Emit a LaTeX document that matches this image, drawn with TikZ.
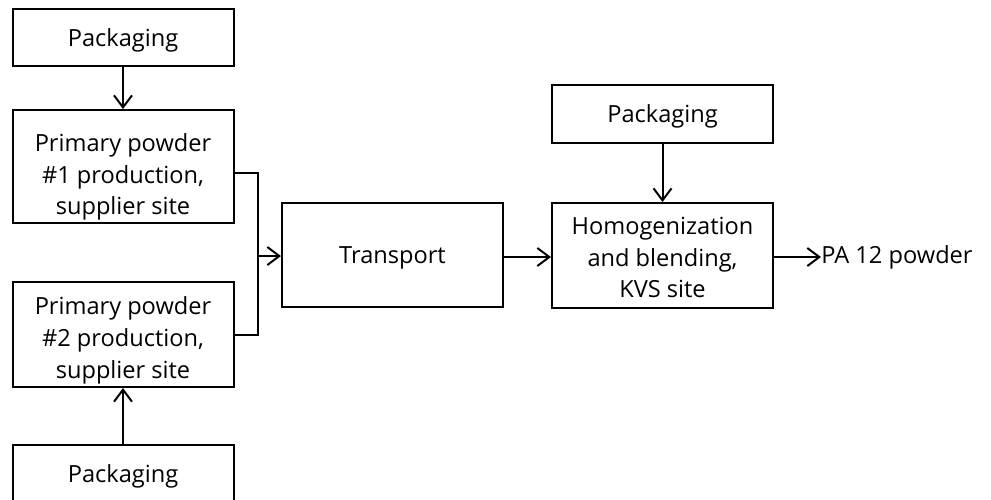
\documentclass[tikz,border=0pt]{standalone}
\usepackage{fontspec}
\setmainfont{Open Sans}
\usetikzlibrary{arrows.meta}
\begin{document}
\begin{tikzpicture}[x=0.5pt,y=-0.5pt,
  box/.style={draw,line width=1pt,inner sep=0pt,minimum width=110.5pt,align=center,
    text depth=0pt,font=\fontsize{11.8}{15.8}\selectfont},
  arr/.style={line width=1pt,-{Straight Barb[length=6pt,width=9pt,line width=1pt]}},
  conn/.style={line width=1pt}]
\useasboundingbox (0,0) rectangle (991,499);
\clip (0,0) rectangle (991,499);
\node[box,minimum height=28.5pt] (pk1) at (123,37.5) {Packaging};
\node[box,minimum height=56.5pt] (p1) at (123,166.5) {\rule{0pt}{16.5pt}Primary powder\\\#1 production,\\supplier site};
\node[box,minimum height=52.5pt] (p2) at (123,334.5) {\rule{0pt}{12pt}Primary powder\\\#2 production,\\supplier site};
\node[box,minimum height=28.5pt] (pk2) at (123,473.5) {Packaging};
\node[box,minimum height=52pt] (tr) at (392.5,255) {Transport};
\node[box,minimum height=52.5pt] (hb) at (662.5,255.5) {\rule{0pt}{10.5pt}Homogenization\\and blending,\\KVS site};
\node[box,minimum height=29pt] (pk3) at (662.5,114) {Packaging};
\node[anchor=west,inner sep=0pt,font=\fontsize{11.8}{16}\selectfont] (out) at (821,257) {PA 12 powder};
\coordinate (j1) at (258,173);
\coordinate (j2) at (258,335);
\coordinate (jm) at (258,256);
\draw[arr] (pk1.south) -- (p1.north);
\draw[arr] (pk2.north) -- (p2.south);
\draw[arr] (pk3.south) -- (hb.north);
\draw[conn] (p1.east |- j1) -- (j1) -- (j2) -- (p2.east |- j2);
\draw[arr] (jm) -- (tr.west |- jm);
\draw[arr] (tr.east |- 0,257) -- (hb.west |- 0,257);
\draw[arr] (hb.east |- out.west) -- (out.west);
\end{tikzpicture}
\end{document}
